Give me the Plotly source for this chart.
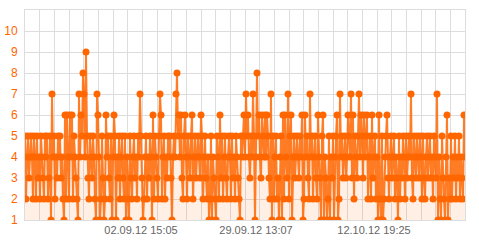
import plotly.graph_objects as go

# Values, one per sample, in order (rows of 40 samples)
values = [
    5,2,4,5,3,4,5,4,2,5, 4,2,5,3,4,2,5,4,3,2, 5,4,5,2,3,5,1,7,4,5, 2,4,3,5,4,5,3,4,2,1,
    6,2,6,4,2,6,4,6,2,5, 4,3,2,1,7,4,6,5,8,7, 4,9,5,3,2,5,4,3,5,4, 2,1,7,6,4,1,2,5,3,1,
    2,6,4,5,3,2,5,1,4,6, 5,1,4,3,5,2,4,5,3,2, 5,1,4,2,1,5,3,2,4,5, 3,4,2,5,4,7,5,3,1,2,
    4,5,2,4,3,5,4,1,6,2, 5,4,3,2,5,7,6,2,4,5, 2,4,3,5,4,5,3,1,4,5, 4,7,8,5,6,4,6,3,2,5,
    6,4,2,5,4,3,5,6,2,4, 5,3,4,5,4,3,6,5,2,4, 5,3,2,4,1,2,5,1,4,3, 2,1,5,4,2,6,3,5,2,4,
    5,3,2,4,5,4,2,5,3,4, 2,5,4,3,2,1,5,4,5,6, 4,7,5,6,4,3,5,4,7,5, 1,4,8,5,6,4,3,6,5,4,
    6,4,6,5,3,2,7,1,5,2, 4,5,2,3,1,4,5,1,6,2, 6,4,3,7,2,5,6,1,4,5, 3,4,5,4,3,5,4,6,1,2,
    6,4,5,3,2,7,4,5,2,4, 5,3,2,6,4,3,1,5,6,1, 4,3,1,2,5,1,4,3,5,1, 4,5,6,1,2,7,4,5,3,4,
    5,3,4,6,5,4,7,3,6,2, 5,4,3,5,7,4,6,5,3,6, 4,5,6,2,4,5,2,6,3,4, 5,2,4,1,6,2,1,5,1,2,
    4,5,6,3,2,4,5,3,4,5, 2,4,3,1,5,2,4,3,5,4, 2,5,3,4,5,4,7,3,2,5, 4,3,5,4,3,5,4,2,5,3,
    2,4,5,3,4,5,3,4,2,5, 4,3,7,1,4,2,1,5,3,2, 1,4,6,1,3,2,5,2,4,3, 5,2,4,3,5,2,4,3,2,6,
    4,
]
sample_index = list(range(len(values)))

# Labelled samples on the time axis
x_tick_samples = [116, 231, 349]
x_tick_labels = ["02.09.12 15:05", "29.09.12 13:07", "12.10.12 19:25"]

y_tick_values = [1, 2, 3, 4, 5, 6, 7, 8, 9, 10, 11]
y_tick_labels = ["1", "2", "3", "4", "5", "6", "7", "8", "9", "10", ""]

ORANGE = "#FF6600"
GRID = "#DDDDDD"

fig = go.Figure()
fig.add_trace(go.Scatter(
    x=sample_index,
    y=values,
    mode="lines+markers",
    line=dict(color="rgba(255,102,0,0.85)", width=2),
    marker=dict(color=ORANGE, size=7),
    fill="tozeroy",
    fillcolor="rgba(255,102,0,0.1)",
    hoverinfo="skip",
    showlegend=False,
))

n = len(values) - 1
fig.update_layout(
    width=479,
    height=249,
    margin=dict(l=25, r=14, t=10, b=29),
    paper_bgcolor="white",
    plot_bgcolor="white",
    font=dict(family="Liberation Sans, Arial, sans-serif", size=11),
    xaxis=dict(
        range=[0, n],
        tickmode="array",
        tickvals=x_tick_samples,
        ticktext=x_tick_labels,
        showgrid=False,
        zeroline=False,
        ticks="",
        automargin=False,
        tickfont=dict(color="#666666", size=11),
        showline=True,
        mirror=True,
        linecolor=GRID,
        linewidth=1,
        minor=dict(dtick=n / 30, tick0=0, showgrid=True, gridcolor=GRID, gridwidth=1, ticks=""),
    ),
    yaxis=dict(
        range=[1, 11],
        tickmode="array",
        tickvals=y_tick_values,
        ticktext=y_tick_labels,
        showgrid=True,
        gridcolor=GRID,
        gridwidth=1,
        zeroline=False,
        ticks="",
        automargin=False,
        ticklabelstandoff=4,
        tickfont=dict(color=ORANGE, size=12),
        showline=True,
        mirror=True,
        linecolor=GRID,
        linewidth=1,
    ),
)

fig.write_html("out.html")
